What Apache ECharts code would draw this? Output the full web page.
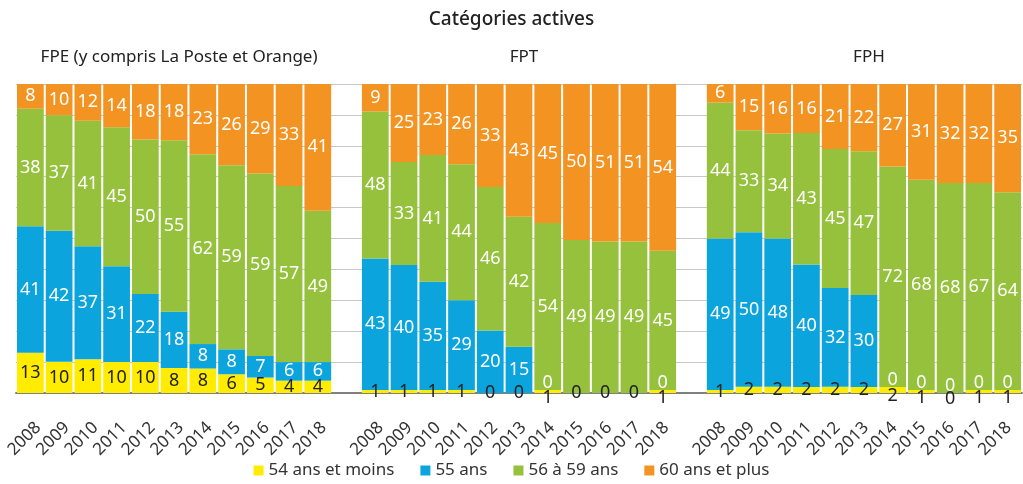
<!DOCTYPE html>
<html>
<head>
<meta charset="utf-8">
<script src="https://cdn.jsdelivr.net/npm/echarts@6/dist/echarts.min.js"></script>
<style>
  html, body { margin: 0; padding: 0; background: #fff; }
  #chart { width: 1023px; height: 484px; }
</style>
</head>
<body>
<div id="chart"></div>
<script>
var years = ['2008', '2009', '2010', '2011', '2012', '2013', '2014', '2015', '2016', '2017', '2018'];
var panelNames = ['FPE (y compris La Poste et Orange)', 'FPT', 'FPH'];
var seriesNames = ['54 ans et moins', '55 ans', '56 à 59 ans', '60 ans et plus'];

// FPE
var fpeYoung = [13, 10, 11, 10, 10, 8, 8, 6, 5, 4, 4];
var fpe55 = [41, 42, 37, 31, 22, 18, 8, 8, 7, 6, 6];
var fpe5659 = [38, 37, 41, 45, 50, 55, 62, 59, 59, 57, 49];
var fpe60 = [8, 10, 12, 14, 18, 18, 23, 26, 29, 33, 41];

// FPT (null = pas de libellé)
var fptYoung = [1, 1, 1, 1, 0, 0, 1, 0, 0, 0, 1];
var fpt55 = [43, 40, 35, 29, 20, 15, 0, null, null, null, 0];
var fpt5659 = [48, 33, 41, 44, 46, 42, 54, 49, 49, 49, 45];
var fpt60 = [9, 25, 23, 26, 33, 43, 45, 50, 51, 51, 54];

// FPH
var fphYoung = [1, 2, 2, 2, 2, 2, 2, 1, 0, 1, 1];
var fph55 = [49, 50, 48, 40, 32, 30, 0, 0, 0, 0, 0];
var fph5659 = [44, 33, 34, 43, 45, 47, 72, 68, 68, 67, 64];
var fph60 = [6, 15, 16, 16, 21, 22, 27, 31, 32, 32, 35];

var colors = ['#ffec00', '#0ca4dd', '#95c13d', '#f29322'];
var font = 'Noto Sans';

// one category axis, empty slot between panels
function joinPanels(a, b, c) {
	return a.concat(['-'], b, ['-'], c);
}
var categories = joinPanels(years, years, years).map(function (y) { return y == '-' ? '' : y; });
var raw = [
	joinPanels(fpeYoung, fptYoung, fphYoung),
	joinPanels(fpe55, fpt55, fph55),
	joinPanels(fpe5659, fpt5659, fph5659),
	joinPanels(fpe60, fpt60, fph60)
];

function buildSeries(k) {
	var data = [];
	for (var i = 0; i < categories.length; i++) {
		var v = raw[k][i];
		if (v === '-' || v === null) { data.push('-'); continue; }
		var total = 0;
		for (var s = 0; s < raw.length; s++) {
			var x = raw[s][i];
			if (typeof x === 'number') total += x;
		}
		var item = { value: v * 100 / total, raw: v };
		// label tweaks when the 55 ans value is 0
		var blue = raw[1][i];
		if (k == 1 && v === 0) item.label = { offset: [0, -7] };
		if (k == 0 && blue === 0) item.label = { offset: [0, 6] };
		data.push(item);
	}
	return {
		name: seriesNames[k],
		type: 'bar',
		stack: 'total',
		barCategoryGap: '7%',
		itemStyle: { color: colors[k] },
		label: {
			show: true,
			position: 'inside',
			fontFamily: font,
			fontSize: 18,
			color: k == 0 ? '#222' : '#fff',
			formatter: function (p) { return p.data.raw; }
		},
		data: data
	};
}

var gridLeft = 16, gridRight = 1, labelShift = 8;
var band = (1023 - gridLeft - gridRight) / categories.length;
function panelCenter(p) { return gridLeft + band * (p * 12 + 5.5); }

var titles = [{
	text: 'Catégories actives',
	left: 'center',
	top: 5,
	textStyle: { fontFamily: font, fontSize: 19, fontWeight: 500, color: '#222' }
}];
for (var p = 0; p < panelNames.length; p++) {
	titles.push({
		text: panelNames[p],
		left: panelCenter(p),
		textAlign: 'center',
		top: 44,
		textStyle: { fontFamily: font, fontSize: 17, fontWeight: 'normal', color: '#222' }
	});
}

var myChart = echarts.init(document.getElementById('chart'));
var option = {
	animation: false,
	title: titles,
	legend: {
		data: seriesNames,
		bottom: 0,
		left: 'center',
		icon: 'rect',
		itemWidth: 10,
		itemHeight: 10,
		itemGap: 26,
		textStyle: { fontFamily: font, fontSize: 17, color: '#333' }
	},
	grid: [
		{ left: gridLeft, right: gridRight, top: 84, bottom: 91 },
		// same grid moved right, only used for the year labels
		{ left: gridLeft + labelShift, right: gridRight - labelShift, top: 84, bottom: 91 }
	],
	xAxis: [{
		type: 'category',
		data: categories,
		axisTick: { show: false },
		axisLine: { lineStyle: { color: '#808080', width: 2 } },
		axisLabel: { show: false }
	}, {
		type: 'category',
		gridIndex: 1,
		data: categories,
		axisTick: { show: false },
		axisLine: { show: false },
		axisLabel: {
			interval: 0,
			rotate: 45,
			margin: 32,
			fontFamily: font,
			fontSize: 17,
			color: '#333'
		}
	}],
	yAxis: [{
		type: 'value',
		min: 0,
		max: 100,
		interval: 10,
		axisLabel: { show: false },
		axisLine: { show: false },
		axisTick: { show: false },
		splitLine: { lineStyle: { color: '#c8c8c8', width: 1 } }
	}, {
		type: 'value',
		gridIndex: 1,
		min: 0,
		max: 100,
		show: false,
		splitLine: { show: false }
	}],
	series: [buildSeries(0), buildSeries(1), buildSeries(2), buildSeries(3)]
};
myChart.setOption(option);
</script>
</body>
</html>
